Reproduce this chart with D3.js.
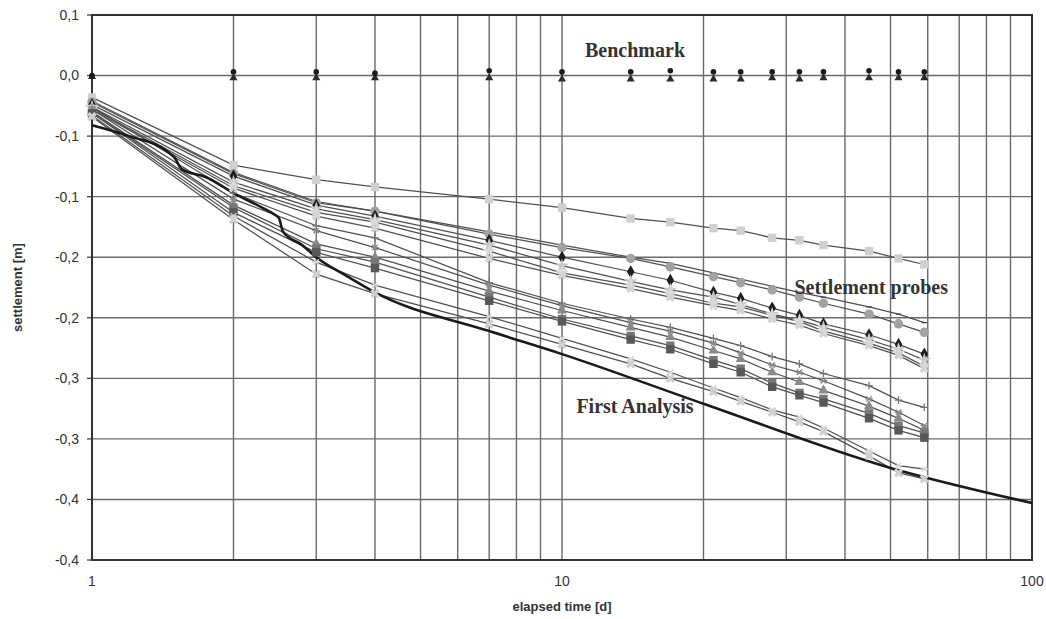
<!DOCTYPE html>
<html>
<head>
<meta charset="utf-8">
<script src="https://cdn.jsdelivr.net/npm/d3@7"></script>
<style>
  body { margin: 0; background: #fff; }
  svg { display: block; }
  .tick-label { font-family: "Liberation Sans", Arial, sans-serif; font-size: 14px; fill: #333; }
  .axis-title { font-family: "Liberation Sans", Arial, sans-serif; font-size: 13px; font-weight: bold; fill: #333; }
  .note { font-family: "Liberation Serif", "Times New Roman", serif; font-size: 20px; font-weight: bold; fill: #333; }
</style>
</head>
<body>
<div id="chart"></div>
<script>
// measuring days
const times = [1, 2, 3, 4, 7, 10, 14, 17, 21, 24, 28, 32, 36, 45, 52, 59];

// benchmark readings [m]
const benchCircle   = [0.000, 0.003, 0.003, 0.002, 0.004, 0.003, 0.003, 0.004, 0.003, 0.003, 0.003, 0.003, 0.003, 0.004, 0.003, 0.003];
const benchTriangle = [-0.001, -0.002, -0.002, -0.002, -0.002, -0.003, -0.003, -0.003, -0.003, -0.003, -0.002, -0.003, -0.002, -0.002, -0.002, -0.002];

// settlement probes [m]
const probeS1 = [-0.018, -0.074, -0.086, -0.092, -0.102, -0.109, -0.118, -0.121, -0.126, -0.128, -0.134, -0.136, -0.140, -0.145, -0.151, -0.156];
const probeA0 = [-0.021, -0.080, -0.104, -0.112, -0.129, -0.140, -0.150, -0.155, -0.163, -0.168, -0.174, -0.179, -0.183, -0.191, -0.197, -0.204];
const probeA1 = [-0.022, -0.081, -0.105, -0.112, -0.131, -0.142, -0.151, -0.158, -0.166, -0.171, -0.177, -0.183, -0.188, -0.197, -0.205, -0.212];
const probeA2 = [-0.024, -0.083, -0.107, -0.116, -0.136, -0.150, -0.162, -0.169, -0.179, -0.184, -0.192, -0.198, -0.205, -0.214, -0.222, -0.230];
const probeA3 = [-0.026, -0.088, -0.110, -0.119, -0.140, -0.157, -0.170, -0.177, -0.183, -0.189, -0.197, -0.202, -0.208, -0.218, -0.226, -0.235];
const probeA4 = [-0.027, -0.091, -0.113, -0.121, -0.145, -0.163, -0.173, -0.180, -0.188, -0.191, -0.198, -0.203, -0.211, -0.221, -0.229, -0.240];
const probeA5 = [-0.028, -0.093, -0.116, -0.126, -0.151, -0.165, -0.176, -0.183, -0.190, -0.194, -0.201, -0.206, -0.213, -0.223, -0.231, -0.242];
const probeB1 = [-0.026, -0.097, -0.124, -0.134, -0.171, -0.188, -0.201, -0.208, -0.217, -0.223, -0.232, -0.238, -0.246, -0.256, -0.268, -0.274];
const probeB2 = [-0.028, -0.102, -0.128, -0.142, -0.173, -0.190, -0.204, -0.211, -0.221, -0.229, -0.239, -0.245, -0.252, -0.267, -0.278, -0.289];
const probeB5 = [-0.030, -0.107, -0.139, -0.150, -0.178, -0.194, -0.208, -0.216, -0.227, -0.234, -0.245, -0.253, -0.260, -0.273, -0.283, -0.293];
const probeB3 = [-0.031, -0.109, -0.143, -0.154, -0.183, -0.201, -0.215, -0.223, -0.235, -0.242, -0.254, -0.262, -0.267, -0.279, -0.289, -0.295];
const probeB4 = [-0.031, -0.113, -0.146, -0.159, -0.186, -0.203, -0.218, -0.226, -0.238, -0.245, -0.257, -0.264, -0.270, -0.283, -0.293, -0.299];
const probeC2 = [-0.033, -0.116, -0.154, -0.173, -0.199, -0.217, -0.234, -0.245, -0.258, -0.266, -0.276, -0.282, -0.291, -0.310, -0.322, -0.325];
const probeC1 = [-0.034, -0.119, -0.164, -0.180, -0.205, -0.222, -0.238, -0.250, -0.261, -0.269, -0.278, -0.286, -0.294, -0.314, -0.328, -0.333];

// first analysis (computed curve)
const analysisT = [1, 1.2, 1.45, 1.5, 1.55, 1.75, 2, 2.3, 2.45, 2.5, 2.55, 2.8, 3, 3.5, 4, 7, 10, 20, 50, 100];
const analysisS = [-0.041, -0.050, -0.063, -0.068, -0.077, -0.084, -0.097, -0.109, -0.115, -0.118, -0.129, -0.140, -0.150, -0.166, -0.179, -0.211, -0.230, -0.271, -0.324, -0.353];

// axis ticks
const yTicks = [0.05, 0, -0.05, -0.1, -0.15, -0.2, -0.25, -0.3, -0.35, -0.4];
const yTickLabels = ["0,1", "0,0", "-0,1", "-0,1", "-0,2", "-0,2", "-0,3", "-0,3", "-0,4", "-0,4"];
const xTicks = [1, 10, 100];
const xGrid = [2, 3, 4, 5, 6, 7, 8, 9, 10, 20, 30, 40, 50, 60, 70, 80, 90];

const probes = [
  { v: probeS1, sym: "square",  size: 70, fill: "#cfcfcf", stroke: "none" },
  { v: probeA0, sym: "dash",    size: 30, fill: "none",    stroke: "#444" },
  { v: probeA1, sym: "circle",  size: 70, fill: "#a2a2a2", stroke: "none" },
  { v: probeA2, sym: "diamond", size: 50, fill: "#1e1e1e", stroke: "none" },
  { v: probeA3, sym: "star",    size: 60, fill: "#c8c8c8", stroke: "none" },
  { v: probeA4, sym: "star",    size: 60, fill: "#dadada", stroke: "none" },
  { v: probeA5, sym: "cross",   size: 50, fill: "#d4d4d4", stroke: "none" },
  { v: probeB1, sym: "plus",    size: 60, fill: "none",    stroke: "#777" },
  { v: probeB2, sym: "asterisk",size: 60, fill: "none",    stroke: "#888" },
  { v: probeB5, sym: "triangle",size: 45, fill: "#8a8a8a", stroke: "none" },
  { v: probeB3, sym: "square",  size: 70, fill: "#777",    stroke: "none" },
  { v: probeB4, sym: "square",  size: 70, fill: "#585858", stroke: "none" },
  { v: probeC2, sym: "asterisk",size: 60, fill: "none",    stroke: "#d6d6d6" },
  { v: probeC1, sym: "cross",   size: 55, fill: "#d0d0d0", stroke: "none" }
];

const width = 1046, height = 619;
const margin = { top: 15, right: 14, bottom: 59, left: 92 };
const w = width - margin.left - margin.right,
      h = height - margin.top - margin.bottom;

const svg = d3.select("#chart").append("svg")
    .attr("width", width)
    .attr("height", height);

const g = svg.append("g")
    .attr("transform", "translate(" + margin.left + "," + margin.top + ")");

const x = d3.scaleLog().domain([1, 100]).range([0, w]);
const y = d3.scaleLinear().domain([0.05, -0.4]).range([0, h]);

// grid
g.selectAll(".hgrid")
    .data(yTicks)
    .enter().append("line")
    .attr("x1", 0).attr("x2", w)
    .attr("y1", (d) => y(d)).attr("y2", (d) => y(d))
    .style("stroke", "#6a6a6a")
    .style("stroke-width", 1.4);

g.selectAll(".vgrid")
    .data(xGrid)
    .enter().append("line")
    .attr("x1", (d) => x(d)).attr("x2", (d) => x(d))
    .attr("y1", 0).attr("y2", h)
    .style("stroke", "#6a6a6a")
    .style("stroke-width", 1.4);

// y ticks + labels
g.selectAll(".ytick")
    .data(yTicks)
    .enter().append("line")
    .attr("x1", -5).attr("x2", 0)
    .attr("y1", (d) => y(d)).attr("y2", (d) => y(d))
    .style("stroke", "#333")
    .style("stroke-width", 1.2);

g.selectAll(".ylabel")
    .data(yTicks)
    .enter().append("text")
    .attr("class", "tick-label")
    .attr("x", -13)
    .attr("y", (d) => y(d))
    .attr("dy", "0.35em")
    .style("text-anchor", "end")
    .text((d, i) => yTickLabels[i]);

g.selectAll(".xlabel")
    .data(xTicks)
    .enter().append("text")
    .attr("class", "tick-label")
    .attr("x", (d) => x(d))
    .attr("y", h + 26)
    .style("text-anchor", "middle")
    .text((d) => d);

// frame
g.append("rect")
    .attr("width", w).attr("height", h)
    .style("fill", "none")
    .style("stroke", "#333")
    .style("stroke-width", 2);

// probe lines
const line = d3.line()
    .x((d) => x(d[0]))
    .y((d) => y(d[1]));

probes.forEach(function (p) {
  g.append("path")
      .datum(times.map((t, i) => [t, p.v[i]]))
      .attr("d", line)
      .style("fill", "none")
      .style("stroke", "#505050")
      .style("stroke-width", 1.25);
});

// first analysis
g.append("path")
    .datum(analysisT.map((t, i) => [t, analysisS[i]]))
    .attr("d", d3.line().x((d) => x(d[0])).y((d) => y(d[1])).curve(d3.curveMonotoneX))
    .style("fill", "none")
    .style("stroke", "#1a1a1a")
    .style("stroke-width", 2.6);

function symbolPath(sym, size) {
  const r = Math.sqrt(size) / 2;
  if (sym === "dash") return "M" + (-r) + ",0H" + r;
  if (sym === "plus") return "M" + (-r) + ",0H" + r + "M0," + (-r) + "V" + r;
  if (sym === "asterisk") return "M" + (-r) + ",0H" + r + "M" + (-r * 0.7) + "," + (-r * 0.7) + "L" + (r * 0.7) + "," + (r * 0.7) + "M" + (-r * 0.7) + "," + (r * 0.7) + "L" + (r * 0.7) + "," + (-r * 0.7);
  const types = { square: d3.symbolSquare, circle: d3.symbolCircle, diamond: d3.symbolDiamond,
                  star: d3.symbolStar, cross: d3.symbolCross, triangle: d3.symbolTriangle };
  return d3.symbol().type(types[sym]).size(size)();
}

probes.forEach(function (p) {
  g.selectAll(null)
      .data(times.map((t, i) => [t, p.v[i]]))
      .enter().append("path")
      .attr("transform", (d) => "translate(" + x(d[0]) + "," + y(d[1]) + ")" + (p.sym === "cross" ? " rotate(45)" : ""))
      .attr("d", symbolPath(p.sym, p.size))
      .style("fill", p.fill)
      .style("stroke", p.stroke)
      .style("stroke-width", 1.3);
});

// benchmark markers
g.selectAll(".bench-tri")
    .data(times.map((t, i) => [t, benchTriangle[i]]))
    .enter().append("path")
    .attr("transform", (d) => "translate(" + x(d[0]) + "," + y(d[1]) + ")")
    .attr("d", d3.symbol().type(d3.symbolTriangle).size(28)())
    .style("fill", "#2a2a2a");

g.selectAll(".bench-circ")
    .data(times.map((t, i) => [t, benchCircle[i]]))
    .enter().append("circle")
    .attr("cx", (d) => x(d[0]))
    .attr("cy", (d) => y(d[1]))
    .attr("r", 2.8)
    .style("fill", "#1a1a1a");

// annotations
g.append("text").attr("class", "note")
    .attr("x", x(14.3)).attr("y", y(0.015))
    .style("text-anchor", "middle")
    .text("Benchmark");

g.append("text").attr("class", "note")
    .attr("x", x(45.5)).attr("y", y(-0.18))
    .style("text-anchor", "middle")
    .text("Settlement probes");

g.append("text").attr("class", "note")
    .attr("x", x(14.3)).attr("y", y(-0.2785))
    .style("text-anchor", "middle")
    .text("First Analysis");

// axis titles
svg.append("text").attr("class", "axis-title")
    .attr("transform", "translate(22," + (margin.top + h / 2) + ") rotate(-90)")
    .style("text-anchor", "middle")
    .text("settlement [m]");

svg.append("text").attr("class", "axis-title")
    .attr("x", margin.left + w / 2)
    .attr("y", 611)
    .style("text-anchor", "middle")
    .text("elapsed time [d]");
</script>
</body>
</html>
